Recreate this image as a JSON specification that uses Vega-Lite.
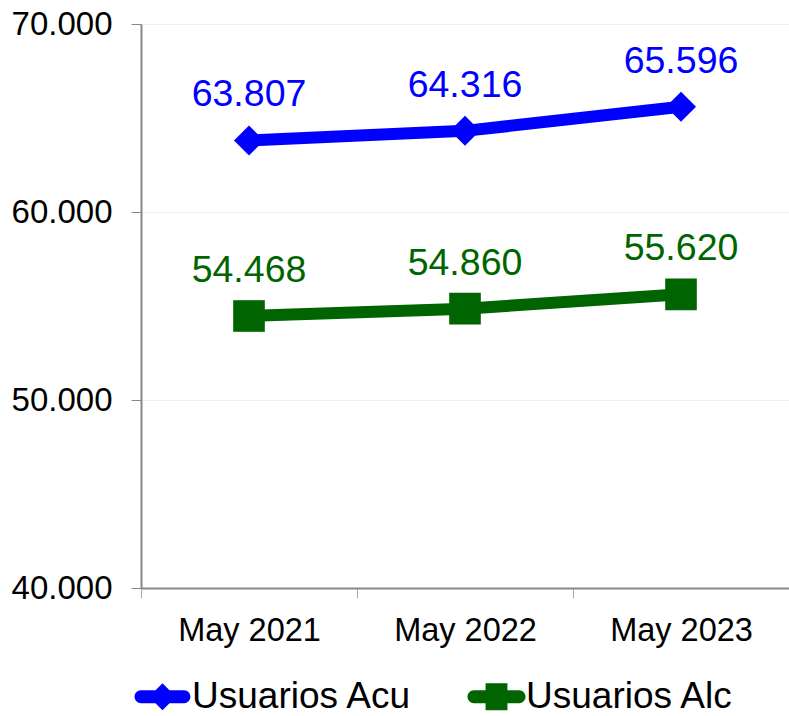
{
  "$schema": "https://vega.github.io/schema/vega-lite/v6.json",
  "width": 648,
  "height": 564,
  "autosize": {"type": "none"},
  "padding": {"left": 141, "top": 24, "right": 0, "bottom": 128},
  "background": "white",
  "config": {
    "locale": {"number": {"decimal": ",", "thousands": ".", "grouping": [3], "currency": ["", " €"]}},
    "font": "Liberation Sans",
    "view": {"stroke": null}
  },
  "data": {
    "values": [
      {"mes": "May 2021", "serie": "Usuarios Acu", "usuarios": 63807},
      {"mes": "May 2022", "serie": "Usuarios Acu", "usuarios": 64316},
      {"mes": "May 2023", "serie": "Usuarios Acu", "usuarios": 65596},
      {"mes": "May 2021", "serie": "Usuarios Alc", "usuarios": 54468},
      {"mes": "May 2022", "serie": "Usuarios Alc", "usuarios": 54860},
      {"mes": "May 2023", "serie": "Usuarios Alc", "usuarios": 55620}
    ]
  },
  "encoding": {
    "x": {
      "field": "mes",
      "type": "ordinal",
      "scale": {"type": "band", "paddingInner": 0, "paddingOuter": 0},
      "axis": {
        "title": null,
        "labelAngle": 0,
        "labelFontSize": 32.5,
        "labelColor": "#000000",
        "labelPadding": 16,
        "tickBand": "extent",
        "tickSize": 10,
        "tickColor": "#aaaaaa",
        "tickWidth": 1,
        "domainColor": "#888888",
        "domainWidth": 2,
        "grid": false
      }
    },
    "y": {
      "field": "usuarios",
      "type": "quantitative",
      "scale": {"domain": [40000, 70000], "zero": false, "nice": false},
      "axis": {
        "title": null,
        "values": [40000, 50000, 60000, 70000],
        "format": ",d",
        "labelFontSize": 33,
        "labelColor": "#000000",
        "labelPadding": 19,
        "tickSize": 10,
        "tickColor": "#888888",
        "domainColor": "#888888",
        "domainWidth": 2,
        "gridColor": "#eeeeee",
        "gridWidth": 1
      }
    },
    "color": {
      "field": "serie",
      "type": "nominal",
      "scale": {"domain": ["Usuarios Acu", "Usuarios Alc"], "range": ["#0000ff", "#006400"]},
      "legend": {
        "title": null,
        "orient": "none",
        "legendX": 3,
        "legendY": 654,
        "direction": "horizontal",
        "padding": 0,
        "labelFontSize": 37,
        "labelColor": "#000000",
        "labelLimit": 600,
        "labelOffset": 11,
        "columnPadding": 54,
        "symbolSize": 729,
        "symbolOpacity": 1,
        "encode": {
          "symbols": {
            "update": {
              "shape": {"signal": "datum.value === 'Usuarios Acu' ? 'M-1.59,-0.48L1.59,-0.48A0.48,0.48,0,0,1,1.59,0.48L-1.59,0.48A0.48,0.48,0,0,1,-1.59,-0.48ZM-1,0L0,-1L1,0L0,1Z' : 'M-1.67,-0.48L1.67,-0.48A0.48,0.48,0,0,1,1.67,0.48L-1.67,0.48A0.48,0.48,0,0,1,-1.67,-0.48ZM-0.81,-1L0.81,-1L0.81,1L-0.81,1Z'"},
              "fill": {"signal": "datum.value === 'Usuarios Acu' ? '#0000ff' : '#006400'"},
              "stroke": {"value": "transparent"},
              "strokeWidth": {"value": 0}
            }
          }
        }
      }
    }
  },
  "layer": [
    {"mark": {"type": "line", "strokeWidth": 12}},
    {
      "transform": [{"filter": "datum.serie === 'Usuarios Acu'"}],
      "mark": {"type": "point", "filled": true, "opacity": 1, "size": 900, "shape": "diamond"}
    },
    {
      "transform": [{"filter": "datum.serie === 'Usuarios Alc'"}],
      "mark": {"type": "point", "filled": true, "opacity": 1, "size": 1000, "shape": "square"}
    },
    {
      "mark": {"type": "text", "dy": -34, "baseline": "alphabetic", "fontSize": 37.5},
      "encoding": {"text": {"field": "usuarios", "type": "quantitative", "format": ",d"}}
    }
  ]
}
